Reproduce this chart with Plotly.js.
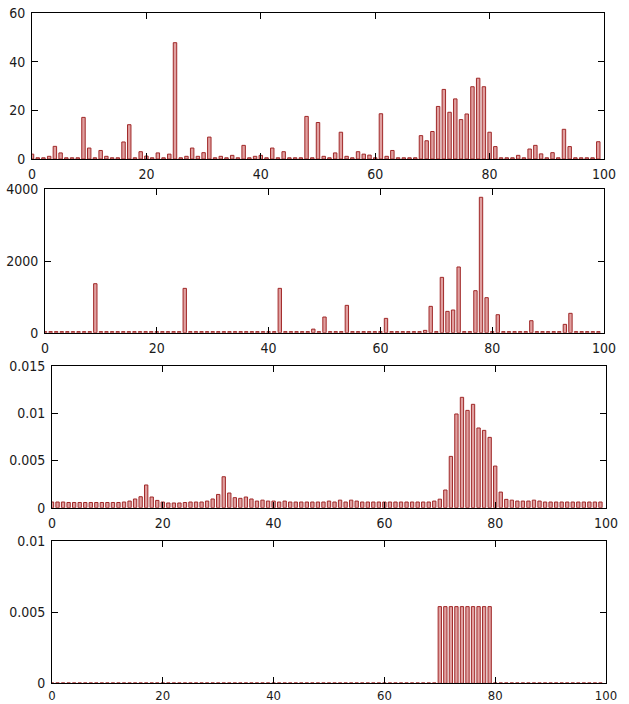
<!DOCTYPE html>
<html>
<head>
<meta charset="utf-8">
<script src="https://cdn.plot.ly/plotly-3.0.1.min.js"></script>
<style>
html,body{margin:0;padding:0;background:#fff;}
#chart{width:629px;height:704px;}
</style>
</head>
<body>
<div id="chart"></div>
<script>
// ---- data ----
var xIndex = [0,1,2,3,4,5,6,7,8,9,10,11,12,13,14,15,16,17,18,19,20,21,22,23,24,25,26,27,28,29,30,31,32,33,34,35,36,37,38,39,40,41,42,43,44,45,46,47,48,49,50,51,52,53,54,55,56,57,58,59,60,61,62,63,64,65,66,67,68,69,70,71,72,73,74,75,76,77,78,79,80,81,82,83,84,85,86,87,88,89,90,91,92,93,94,95,96,97,98,99];

var series1 = [2,0.5,0.5,1.1,5.2,2.5,0.5,0.5,0.5,17.1,
  4.5,0.5,3.5,1.1,0.5,0.5,7,14.1,0.5,3,
  1.2,0.5,2.5,0.5,2,47.8,0.5,1.1,4.5,1.1,
  2.6,9,0.5,1.1,0.5,1.5,0.5,5.6,0.5,1.1,
  1.5,0.5,4.5,0.5,3,0.5,0.5,0.5,17.5,0.5,
  15,1.1,0.5,2.5,11,1.1,0.5,3,2,1.6,
  0.5,18.6,1.1,3.5,0.5,0.5,0.5,0.5,9.6,7.5,
  11.3,21.6,28.6,19.2,24.7,16.2,18.5,29.7,33.2,29.7,
  11,5.1,0.5,0.5,0.5,1.5,0.5,4.1,5.6,2.1,
  0.5,2.6,0.5,12.2,5.1,0.5,0.5,0.5,0.5,7.1];

var series2 = [30,30,30,30,30,30,30,30,30,1367,
  30,30,30,30,30,30,30,30,30,30,
  30,30,30,30,30,1237,30,30,30,30,
  30,30,30,30,30,30,30,30,30,30,
  30,30,1237,30,30,30,30,30,100,30,
  437,30,30,30,763,30,30,30,30,30,
  30,400,30,30,30,30,30,30,65,735,
  30,1544,595,633,1833,30,30,1172,3777,977,
  30,502,30,30,30,30,30,335,30,30,
  30,30,30,233,540,30,30,30,30,30];

var series3 = [0.0006,0.0006,0.0006,0.00055,0.00055,0.00055,0.00055,0.00055,0.00055,0.00055,
  0.00055,0.00055,0.00055,0.0006,0.0007,0.00092,0.00116,0.0024,0.00113,0.00077,
  0.0006,0.0005,0.0005,0.0005,0.00055,0.0006,0.0006,0.0006,0.0007,0.00092,
  0.0014,0.00327,0.00155,0.00106,0.00099,0.00113,0.00092,0.0007,0.0008,0.0007,
  0.0007,0.0006,0.0007,0.0006,0.0006,0.0006,0.0006,0.0006,0.0006,0.0006,
  0.0007,0.0006,0.0008,0.0006,0.0008,0.0007,0.0006,0.0006,0.0006,0.0006,
  0.0006,0.0006,0.0006,0.0006,0.0006,0.0006,0.0006,0.0006,0.0006,0.0007,
  0.0009,0.00187,0.00542,0.0099,0.01166,0.01028,0.01092,0.00842,0.00817,0.00743,
  0.0044,0.00165,0.00088,0.0008,0.0007,0.0007,0.0007,0.0008,0.0007,0.0006,
  0.0006,0.0006,0.0006,0.0006,0.0006,0.0006,0.0006,0.0006,0.0006,0.0006];

var series4 = [0.00003,0.00003,0.00003,0.00003,0.00003,0.00003,0.00003,0.00003,0.00003,0.00003,
  0.00003,0.00003,0.00003,0.00003,0.00003,0.00003,0.00003,0.00003,0.00003,0.00003,
  0.00003,0.00003,0.00003,0.00003,0.00003,0.00003,0.00003,0.00003,0.00003,0.00003,
  0.00003,0.00003,0.00003,0.00003,0.00003,0.00003,0.00003,0.00003,0.00003,0.00003,
  0.00003,0.00003,0.00003,0.00003,0.00003,0.00003,0.00003,0.00003,0.00003,0.00003,
  0.00003,0.00003,0.00003,0.00003,0.00003,0.00003,0.00003,0.00003,0.00003,0.00003,
  0.00003,0.00003,0.00003,0.00003,0.00003,0.00003,0.00003,0.00003,0.00003,0.00003,
  0.0054,0.0054,0.0054,0.0054,0.0054,0.0054,0.0054,0.0054,0.0054,0.0054,
  0.00003,0.00003,0.00003,0.00003,0.00003,0.00003,0.00003,0.00003,0.00003,0.00003,
  0.00003,0.00003,0.00003,0.00003,0.00003,0.00003,0.00003,0.00003,0.00003,0.00003];

var xTickVals = [0,20,40,60,80,100];
var xTickText = ["0","20","40","60","80","100"];
var y1TickVals = [0,20,40,60];
var y1TickText = ["0","20","40","60"];
var y2TickVals = [0,2000,4000];
var y2TickText = ["0","2000","4000"];
var y3TickVals = [0,0.005,0.01,0.015];
var y3TickText = ["0","0.005","0.01","0.015"];
var y4TickVals = [0,0.005,0.01];
var y4TickText = ["0","0.005","0.01"];

// ---- styling ----
var W = 629, H = 704;
var fontFamily = "'Liberation Sans Narrow', 'DejaVu Sans Condensed', 'Liberation Sans', sans-serif";
var fontSpec = {family: fontFamily, size: 14, color: '#1a1a1a'};
var barLine = {color: '#a02828', width: 1};
var barFill = '#e0a0a0';

function bar(y, xa, ya) {
  return {type: 'bar', x: xIndex, y: y, xaxis: xa, yaxis: ya, width: 0.6,
    marker: {color: barFill, line: barLine}, hoverinfo: 'skip', showlegend: false};
}

function xAx(l, r, anchor, standoff, fsize) {
  return {domain: [l / W, r / W], anchor: anchor, range: [0, 100], tickvals: xTickVals, ticktext: xTickText,
    ticks: 'inside', ticklen: 6, tickwidth: 1, tickcolor: '#000', mirror: 'ticks', showline: true,
    linecolor: '#000', linewidth: 1, showgrid: false, zeroline: false,
    tickfont: {family: fontFamily, size: fsize, color: '#1a1a1a'},
    ticklabelstandoff: standoff, fixedrange: true};
}
function yAx(top, bottom, anchor, range, tv, tt) {
  return {domain: [1 - bottom / H, 1 - top / H], anchor: anchor, range: range, tickvals: tv, ticktext: tt,
    ticks: 'inside', ticklen: 6, tickwidth: 1, tickcolor: '#000', mirror: 'ticks', showline: true,
    linecolor: '#000', linewidth: 1, showgrid: false, zeroline: false, tickfont: fontSpec,
    ticklabelstandoff: 3, fixedrange: true};
}

var data = [
  bar(series1, 'x', 'y'),
  bar(series2, 'x2', 'y2'),
  bar(series3, 'x3', 'y3'),
  bar(series4, 'x4', 'y4')
];

var layout = {
  width: W, height: H,
  margin: {l: 0, r: 0, t: 0, b: 0},
  paper_bgcolor: '#fff', plot_bgcolor: '#fff',
  showlegend: false,
  barmode: 'overlay',
  xaxis: xAx(32, 604, 'y', 2, 14),
  yaxis: yAx(13, 159, 'x', [0, 60], y1TickVals, y1TickText),
  xaxis2: xAx(45, 604, 'y2', 2, 14),
  yaxis2: yAx(189.3, 332.7, 'x2', [0, 4000], y2TickVals, y2TickText),
  xaxis3: xAx(52, 606, 'y3', 2, 14),
  yaxis3: yAx(365.7, 507.7, 'x3', [0, 0.015], y3TickVals, y3TickText),
  xaxis4: xAx(52, 606, 'y4', 0, 13),
  yaxis4: yAx(541.3, 683.3, 'x4', [0, 0.01], y4TickVals, y4TickText)
};

Plotly.newPlot('chart', data, layout, {displayModeBar: false, staticPlot: true});
</script>
</body>
</html>
